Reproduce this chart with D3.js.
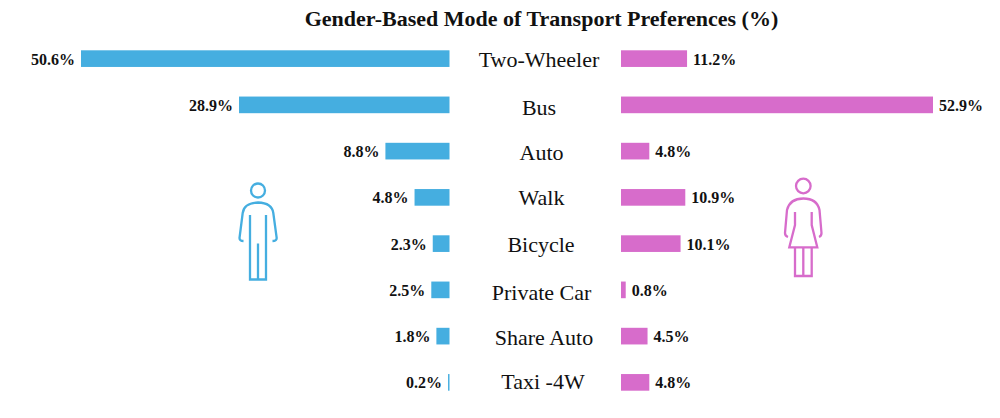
<!DOCTYPE html>
<html>
<head>
<meta charset="utf-8">
<script src="https://cdn.jsdelivr.net/npm/d3@7"></script>
<style>
  html, body { margin: 0; padding: 0; background: #fff; }
  text { font-family: "Liberation Serif", serif; fill: #111; }
  .title { font-size: 22px; font-weight: bold; }
  .mode { font-size: 22px; }
  .val { font-size: 16px; font-weight: bold; }
</style>
</head>
<body>
<div id="chart"></div>
<script>
const modes = ['Two-Wheeler', 'Bus', 'Auto', 'Walk', 'Bicycle', 'Private Car', 'Share Auto', 'Taxi -4W'];
const maleShare = [50.6, 28.9, 8.8, 4.8, 2.3, 2.5, 1.8, 0.2];
const femaleShare = [11.2, 52.9, 4.8, 10.9, 10.1, 0.8, 4.5, 4.8];

const width = 1000, height = 418;
const maleColor = '#45aee0', femaleColor = '#d76ccb';

// the category names are placed by hand in the original, not quite on the bar centre
const modeShift = {
    'Two-Wheeler': [0, 1],
    'Bus': [0, 3],
    'Auto': [2.5, 2],
    'Walk': [2.5, 1],
    'Bicycle': [2, 1],
    'Private Car': [2.5, 3],
    'Share Auto': [5, 2],
    'Taxi -4W': [4, 0]
};

const svg = d3.select('#chart').append('svg')
    .attr('width', width)
    .attr('height', height)
    .style('display', 'block');

// each side has its own scale, same as the original
const xMale = d3.scaleLinear().domain([0, 50.6]).range([449.5, 81]);
const xFemale = d3.scaleLinear().domain([0, 52.9]).range([621, 933]);
const y = d3.scaleBand().domain(modes).range([35.5, 405.5]).paddingInner(0.64).paddingOuter(0.32);

svg.append('text')
    .attr('class', 'title')
    .attr('x', 541.5)
    .attr('y', 26)
    .attr('text-anchor', 'middle')
    .text('Gender-Based Mode of Transport Preferences (%)');

// male bars + labels
svg.selectAll('.male')
    .data(modes)
    .enter()
    .append('rect')
    .attr('class', 'male')
    .attr('x', (d, i) => xMale(maleShare[i]))
    .attr('y', d => y(d))
    .attr('width', (d, i) => xMale(0) - xMale(maleShare[i]))
    .attr('height', y.bandwidth())
    .attr('fill', maleColor);

svg.selectAll('.maleVal')
    .data(modes)
    .enter()
    .append('text')
    .attr('class', 'val')
    .attr('x', (d, i) => xMale(maleShare[i]) - 6)
    .attr('y', d => y(d) + y.bandwidth() / 2 + 6)
    .attr('text-anchor', 'end')
    .text((d, i) => maleShare[i].toFixed(1) + '%');

// female bars + labels
svg.selectAll('.female')
    .data(modes)
    .enter()
    .append('rect')
    .attr('class', 'female')
    .attr('x', xFemale(0))
    .attr('y', d => y(d))
    .attr('width', (d, i) => xFemale(femaleShare[i]) - xFemale(0))
    .attr('height', y.bandwidth())
    .attr('fill', femaleColor);

svg.selectAll('.femaleVal')
    .data(modes)
    .enter()
    .append('text')
    .attr('class', 'val')
    .attr('x', (d, i) => xFemale(femaleShare[i]) + 6)
    .attr('y', d => y(d) + y.bandwidth() / 2 + 6)
    .text((d, i) => femaleShare[i].toFixed(1) + '%');

// category names in the middle
svg.selectAll('.mode')
    .data(modes)
    .enter()
    .append('text')
    .attr('class', 'mode')
    .attr('x', d => 539 + modeShift[d][0])
    .attr('y', d => y(d) + y.bandwidth() / 2 + 7 + modeShift[d][1])
    .attr('text-anchor', 'middle')
    .text(d => d);

// man icon
const man = svg.append('g')
    .attr('fill', 'none')
    .attr('stroke', maleColor)
    .attr('stroke-width', 2.3);
man.append('circle').attr('cx', 258).attr('cy', 190.5).attr('r', 7);
man.append('path').attr('d', 'M243.500 241 Q239.500 241 239.500 238 L242.700 213 Q244 203 258 202.500 Q272 203 273.300 213 L276.700 238 Q276.700 241 272.500 241');
man.append('path').attr('d', 'M250 215 V279.500 H266 V215 M258 243.500 V279.500');

// woman icon
const woman = svg.append('g')
    .attr('fill', 'none')
    .attr('stroke', femaleColor)
    .attr('stroke-width', 2.3);
woman.append('circle').attr('cx', 803.300).attr('cy', 186).attr('r', 7.300);
woman.append('path').attr('d', 'M788 237 Q785 236 785 233 L787 210 Q790 198.500 803.300 198.500 Q817 198.500 819.500 210 L821.500 233 Q821.500 236 819 237');
woman.append('path').attr('d', 'M795 212 V225 L789.300 247.300 H817.300 L811.700 225 V212');
woman.append('path').attr('d', 'M795 247.300 V276 H811.700 V247.300 M803.300 247.300 V276');
</script>
</body>
</html>
